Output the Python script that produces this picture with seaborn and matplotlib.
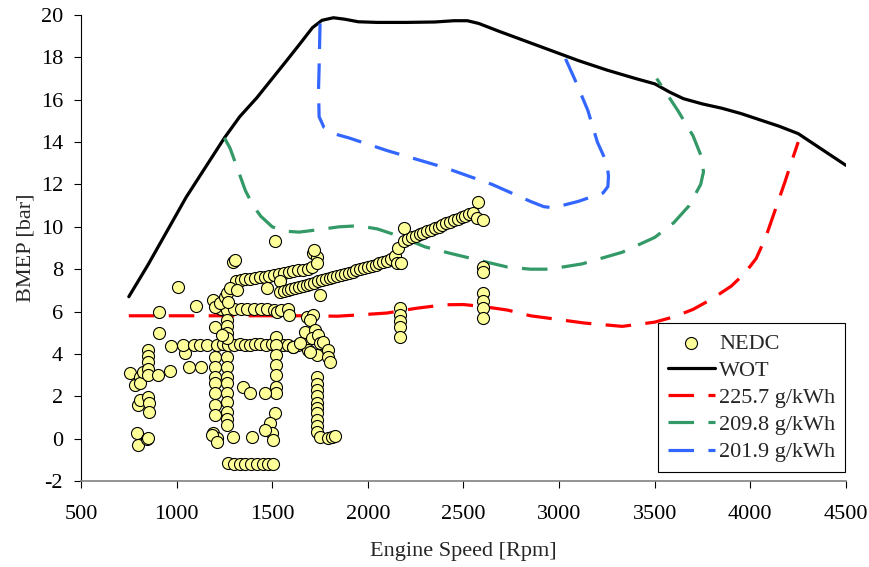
import matplotlib
matplotlib.use("Agg")
import matplotlib.pyplot as plt
import pandas as pd
import seaborn as sns

# Full-load (wide open throttle) curve
wot_rpm = [750, 850, 950, 1050, 1150, 1250, 1330, 1420, 1500, 1580, 1650, 1710, 1760, 1820,
           1880, 1950, 2050, 2200, 2350, 2450, 2520, 2580, 2680, 2800, 2950, 3100, 3250,
           3400, 3500, 3580, 3650, 3750, 3850, 3950, 4050, 4150, 4250, 4350, 4450, 4500]
wot_bmep = [6.7, 8.2, 9.8, 11.4, 12.8, 14.2, 15.2, 16.1, 17.0, 17.9, 18.7, 19.4, 19.75,
            19.87, 19.8, 19.68, 19.65, 19.65, 19.67, 19.73, 19.73, 19.6, 19.25, 18.85,
            18.35, 17.85, 17.4, 17.0, 16.75, 16.35, 16.05, 15.8, 15.6, 15.35, 15.05,
            14.75, 14.4, 13.8, 13.2, 12.9]

# BSFC iso-lines
bsfc_225_rpm = [750, 1000, 1250, 1500, 1700, 1840, 1950, 2100, 2250, 2400, 2500, 2600, 2730,
                2850, 2950, 3130, 3330, 3500, 3600, 3700, 3800, 3900, 3970, 4030, 4080, 4130,
                4180, 4220, 4250]
bsfc_225_bmep = [5.8, 5.8, 5.8, 5.8, 5.8, 5.78, 5.84, 5.93, 6.15, 6.32, 6.33, 6.24, 6.07,
                 5.8, 5.68, 5.46, 5.3, 5.5, 5.75, 6.1, 6.6, 7.2, 7.8, 8.5, 9.5, 10.8,
                 12.1, 13.2, 14.0]

bsfc_209_rpm = [1250, 1280, 1320, 1360, 1400, 1440, 1500, 1560, 1640, 1730, 1850, 1950, 2050,
                2150, 2300, 2430, 2590, 2730, 2850, 2950, 3120, 3330, 3500, 3600, 3680, 3740,
                3755, 3740, 3700, 3620, 3510]
bsfc_209_bmep = [14.2, 13.7, 12.7, 11.7, 11.0, 10.5, 10.0, 9.8, 9.75, 9.85, 10.0, 10.05, 9.9,
                 9.6, 9.05, 8.75, 8.4, 8.1, 8.0, 8.0, 8.25, 8.8, 9.5, 10.2, 11.0, 12.0,
                 12.6, 13.4, 14.3, 15.5, 17.0]

bsfc_201_rpm = [1750, 1745, 1742, 1745, 1770, 1820, 1900, 2100, 2400, 2650, 2850, 2920, 2970,
                3100, 3230, 3255, 3258, 3250, 3200, 3150, 3080, 3030]
bsfc_201_bmep = [19.6, 17.5, 16.5, 15.2, 14.7, 14.4, 14.2, 13.6, 12.8, 12.0, 11.2, 10.95, 10.9,
                 11.2, 11.6, 11.9, 12.4, 13.0, 14.0, 15.5, 17.0, 18.0]

# NEDC operating points, grouped by cycle phase
low_rpm = [756, 782, 793, 798, 798, 808, 808, 808, 824, 845, 850, 850, 850, 850, 850, 850,
           850, 855, 855, 903, 908, 908, 966, 1006, 1044, 1065, 1101, 1127]
low_bmep = [3.1, 2.53, 0.26, 1.59, -0.3, 2.9, 2.62, 1.82, 3.14, 0.0, 4.2, 3.9, 3.6, 3.3, 3.0,
            1.96, 0.05, 1.68, 1.26, 3.0, 5.98, 4.99, 3.19, 7.16, 4.04, 3.38, 6.26, 3.38]

band44_rpm = [971, 1034, 1091, 1122, 1158, 1210, 1240, 1270, 1300, 1331, 1360, 1384, 1410,
              1436, 1466, 1498, 1527, 1556, 1582, 1609, 1635, 1661]
band44_bmep = [4.38, 4.4, 4.4, 4.42, 4.4, 4.42, 4.45, 4.42, 4.42, 4.45, 4.4, 4.42, 4.45,
               4.45, 4.42, 4.45, 4.4, 4.42, 4.4, 4.32, 4.42, 4.5]

band61_rpm = [1230, 1265, 1300, 1335, 1370, 1405, 1440, 1475, 1510, 1525, 1545, 1580, 1590]
band61_bmep = [6.1, 6.08, 6.1, 6.12, 6.1, 6.1, 6.12, 6.1, 6.08, 5.98, 6.05, 6.1, 5.86]

band78_rpm = [1310, 1335, 1360, 1385, 1410, 1435, 1460, 1485, 1510, 1535, 1560, 1585, 1610,
              1635, 1660, 1685, 1710]
band78_bmep = [7.45, 7.5, 7.53, 7.56, 7.58, 7.61, 7.65, 7.69, 7.73, 7.78, 7.82, 7.86, 7.9,
               7.94, 7.98, 8.02, 8.08]

col12_rpm = [1190, 1200, 1200, 1200, 1200, 1200, 1200, 1200, 1200, 1200, 1190, 1210, 1185,
             1227, 1253, 1263, 1263, 1263, 1263, 1263, 1263, 1263, 1263, 1263, 1263, 1263,
             1263, 1263, 1263, 1270, 1279, 1295, 1316, 1237, 1210]
col12_bmep = [6.54, 6.2, 5.27, 3.85, 3.38, 2.9, 2.62, 2.15, 1.59, 1.12, 0.26, 0.03, 0.17,
              6.4, 6.7, 6.87, 5.6, 5.3, 5.0, 4.75, 3.85, 3.38, 2.9, 2.62, 2.15, 1.73,
              1.26, 0.95, 0.64, 6.45, 7.1, 0.08, 7.0, 4.9, -0.15]

col15_rpm = [1520, 1520, 1520, 1520, 1520, 1520, 1520, 1347, 1384, 1462, 1514, 1488, 1498,
             1505, 1460, 1394, 1514, 1295, 1472, 1540, 1305]
col15_bmep = [4.8, 4.42, 3.95, 3.47, 3.0, 2.44, 2.15, 2.44, 2.15, 2.15, 1.2, 0.74, 0.26,
              -0.07, 0.4, 0.08, 9.33, 8.34, 7.1, 7.45, 8.42]

neg_rpm = [1270, 1300, 1330, 1360, 1390, 1420, 1450, 1480, 1505]
neg_bmep = [-1.15, -1.2, -1.2, -1.22, -1.22, -1.22, -1.22, -1.22, -1.2]

c17_rpm = [1682, 1713, 1697, 1671, 1723, 1708, 1739, 1750, 1765, 1687, 1734, 1791, 1791,
           1802, 1608, 1645, 1697, 1713, 1734, 1734, 1720, 1750, 1734, 1734, 1734, 1734,
           1734, 1734, 1734, 1734, 1734, 1734, 1750, 1790, 1812, 1828]
c17_bmep = [5.74, 5.84, 5.6, 5.03, 5.13, 4.75, 4.9, 4.51, 4.56, 4.18, 3.95, 4.18, 3.85,
            3.62, 4.32, 4.51, 4.09, 8.76, 8.57, 8.29, 8.9, 6.78, 2.9, 2.6, 2.3, 2.0,
            1.7, 1.45, 1.2, 0.9, 0.6, 0.3, 0.08, 0.05, 0.08, 0.12]

ramp1_rpm = [1540, 1560, 1580, 1600, 1620, 1640, 1660, 1680, 1700, 1720, 1740, 1760, 1780,
             1800, 1820, 1840, 1860, 1880, 1900, 1920, 1940, 1960, 1980, 2000, 2020, 2040,
             2060, 2080, 2100, 2120, 2140, 2160, 2150, 2175]
ramp1_bmep = [6.9, 6.96, 7.01, 7.06, 7.11, 7.17, 7.22, 7.27, 7.32, 7.37, 7.42, 7.47, 7.52,
              7.57, 7.62, 7.67, 7.73, 7.78, 7.83, 7.88, 7.94, 7.99, 8.04, 8.1, 8.16, 8.22,
              8.28, 8.34, 8.4, 8.47, 8.6, 9.0, 8.3, 8.3]

ramp2_rpm = [2190, 2210, 2230, 2250, 2270, 2290, 2310, 2330, 2350, 2370, 2390, 2410, 2430,
             2450, 2470, 2490, 2510, 2530, 2550, 2575, 2570, 2600, 2190]
ramp2_bmep = [9.35, 9.42, 9.5, 9.57, 9.64, 9.72, 9.79, 9.86, 9.94, 10.01, 10.08, 10.16, 10.23,
              10.3, 10.38, 10.45, 10.52, 10.6, 10.67, 11.17, 10.4, 10.33, 9.94]

col2k_rpm = [2168, 2168, 2168, 2168, 2168, 2600, 2600, 2600, 2600, 2600, 2600]
col2k_bmep = [6.15, 5.84, 5.55, 5.27, 4.8, 8.1, 7.85, 6.87, 6.5, 6.17, 5.7]

nedc = pd.DataFrame({
    "rpm": (low_rpm + band44_rpm + band61_rpm + band78_rpm + col12_rpm + col15_rpm
            + neg_rpm + c17_rpm + ramp1_rpm + ramp2_rpm + col2k_rpm),
    "bmep": (low_bmep + band44_bmep + band61_bmep + band78_bmep + col12_bmep + col15_bmep
             + neg_bmep + c17_bmep + ramp1_bmep + ramp2_bmep + col2k_bmep),
})

sns.set_theme(style="ticks")
plt.rcParams["font.family"] = ["Liberation Serif", "DejaVu Serif"]
plt.rcParams["font.size"] = 16
plt.rcParams["axes.unicode_minus"] = False

fig = plt.figure(figsize=(8.7, 5.67), dpi=100)
ax = fig.add_axes([81 / 870, 86 / 567, 765 / 870, 466 / 567])

dash = (0, (8, 4.5))
curves = [
    (wot_rpm, wot_bmep, "black", "-", "WOT"),
    (bsfc_225_rpm, bsfc_225_bmep, "#FF0000", dash, "225.7 g/kWh"),
    (bsfc_209_rpm, bsfc_209_bmep, "#339966", dash, "209.8 g/kWh"),
    (bsfc_201_rpm, bsfc_201_bmep, "#3366FF", dash, "201.9 g/kWh"),
]
for xs, ys, col, ls, lab in curves:
    sns.lineplot(data=pd.DataFrame({"rpm": xs, "bmep": ys}), x="rpm", y="bmep",
                 sort=False, estimator=None, color=col, linewidth=2.3,
                 linestyle=ls, dash_capstyle="butt", solid_joinstyle="round",
                 label=lab, ax=ax, zorder=2)

sns.scatterplot(data=nedc, x="rpm", y="bmep", s=75, color="#FFFF99",
                edgecolor="black", linewidth=0.8, label="NEDC", ax=ax, zorder=3)

ax.set_xlim(500, 4500)
ax.set_ylim(-2, 20)
ax.set_xticks(range(500, 4501, 500))
ax.set_yticks(range(-2, 21, 2))
for side in ("top", "right"):
    ax.spines[side].set_visible(False)
ax.spines["left"].set_color("black")
ax.spines["bottom"].set_color("#808080")
ax.spines["left"].set_linewidth(0.8)
ax.spines["bottom"].set_linewidth(1.2)
ax.tick_params(axis="both", direction="out", length=5, width=0.8, colors="black",
               labelsize=16)
ax.tick_params(axis="x", pad=12)
ax.tick_params(axis="y", pad=8)
ax.set_xlabel("Engine Speed [Rpm]", fontsize=16, labelpad=13)
ax.set_ylabel("BMEP [bar]", fontsize=16, labelpad=4)

handles, labels = ax.get_legend_handles_labels()
order = ["NEDC", "WOT", "225.7 g/kWh", "209.8 g/kWh", "201.9 g/kWh"]
hmap = dict(zip(labels, handles))
leg = ax.legend([hmap[k] for k in order], order, loc="upper left",
                bbox_to_anchor=(658 / 870, 1 - 323 / 567), bbox_transform=fig.transFigure,
                borderaxespad=0, fancybox=False, framealpha=1, edgecolor="black",
                fontsize=16, handlelength=2.1, handletextpad=0.2, labelspacing=0.3,
                borderpad=0.45)
leg.get_frame().set_linewidth(0.8)

fig.savefig("out.png", dpi=100)
